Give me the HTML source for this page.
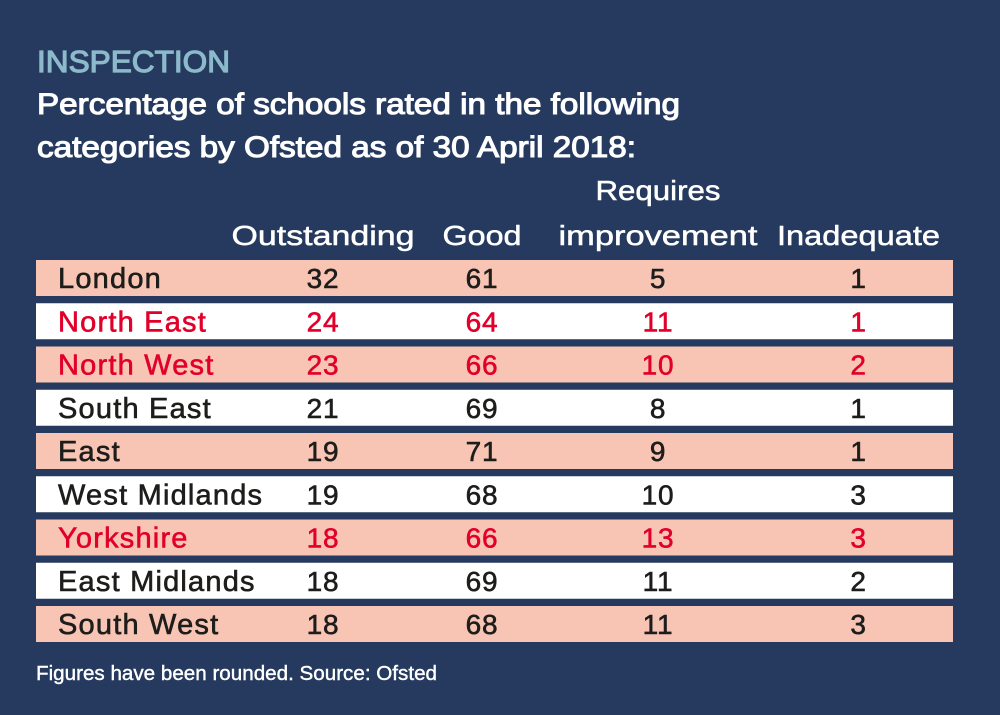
<!DOCTYPE html>
<html><head><meta charset="utf-8"><style>
html,body{margin:0;padding:0;background:#253a5e;}
svg{display:block;font-family:"Liberation Sans",sans-serif;}
</style></head><body>
<svg width="1000" height="715" viewBox="0 0 1000 715">
<rect x="0" y="0" width="1000" height="715" fill="#253a5e"/>
<text x="37" y="72" font-size="31" fill="#8dbacb" stroke="#8dbacb" stroke-width="1.2" textLength="193" lengthAdjust="spacingAndGlyphs">INSPECTION</text>
<text x="37" y="114" font-size="30" fill="#ffffff" stroke="#ffffff" stroke-width="1.1" textLength="643" lengthAdjust="spacingAndGlyphs">Percentage of schools rated in the following</text>
<text x="37" y="157" font-size="30" fill="#ffffff" stroke="#ffffff" stroke-width="1.1" textLength="599" lengthAdjust="spacingAndGlyphs">categories by Ofsted as of 30 April 2018:</text>
<g id="headers"></g>
<g id="rows"></g>
<text x="36" y="680" font-size="20" fill="#ffffff" stroke="#ffffff" stroke-width="0.4" textLength="401" lengthAdjust="spacingAndGlyphs">Figures have been rounded. Source: Ofsted</text>
</svg>
<script>
const regions = ["London","North East","North West","South East","East","West Midlands","Yorkshire","East Midlands","South West"];
const outstanding = [32,24,23,21,19,19,18,18,18];
const good = [61,64,66,69,71,68,66,69,68];
const requiresImprovement = [5,11,10,8,9,10,13,11,11];
const inadequate = [1,1,2,1,1,3,3,2,3];
const highlighted = [false,true,true,false,false,false,true,false,false];
const headerLabels = ["Outstanding","Good","improvement","Inadequate"];

const NS = "http://www.w3.org/2000/svg";
const colX = [323, 482, 658, 858.5];
const hdrW = [183, 79, 199, 163];
const rowTop = 260, rowPitch = 43.25, rowH = 36;
function mk(tag, attrs, parent){const e=document.createElementNS(NS,tag);for(const k in attrs)e.setAttribute(k,attrs[k]);parent.appendChild(e);return e;}

const hg = document.getElementById('headers');
const req = mk('text',{x:658,y:200,'font-size':28,fill:'#fff',stroke:'#fff','stroke-width':0.5,'text-anchor':'middle',textLength:125,lengthAdjust:'spacingAndGlyphs'},hg);
req.textContent='Requires';


headerLabels.forEach((h,i)=>{
  const t = mk('text',{x:colX[i],y:245,'font-size':28,fill:'#fff',stroke:'#fff','stroke-width':0.5,'text-anchor':'middle',textLength:hdrW[i],lengthAdjust:'spacingAndGlyphs'},hg);
  t.textContent=h;
  
  
});

const rg = document.getElementById('rows');
regions.forEach((r,i)=>{
  const y = rowTop + i*rowPitch;
  const g = mk('g',{},rg);
  
  
  const bg = mk('rect',{x:36,y:y,width:917,height:rowH,fill:(i%2==0)?'#f8c5b5':'#ffffff'},g);
  
  
  const col = highlighted[i] ? '#e2002a' : '#1d1d1b';
  const lab = mk('text',{x:58,y:y+28,'font-size':29,fill:col,stroke:col,'stroke-width':0.6,'letter-spacing':1.2},g);
  lab.textContent=r;
  
  
  [outstanding[i],good[i],requiresImprovement[i],inadequate[i]].forEach((v,j)=>{
    const t = mk('text',{x:colX[j],y:y+28,'font-size':28,fill:col,stroke:col,'stroke-width':0.6,'letter-spacing':0.8,'text-anchor':'middle'},g);
    t.textContent=v;
    
    
  });
});
</script>
</body></html>
